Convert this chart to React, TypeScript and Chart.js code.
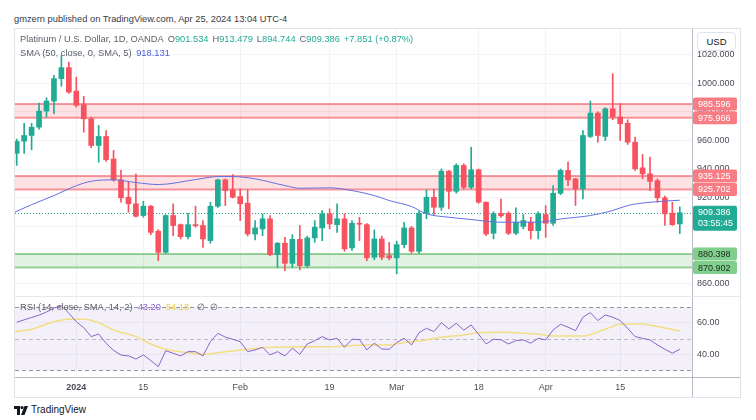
import React, { useEffect, useRef } from "react";
import { Chart, registerables } from "chart.js";
Chart.register(...registerables);

const FONT = "'Liberation Sans', Arial, sans-serif";

// ---- Daily OHLC (Dec 19 2023 .. Apr 25 2024) ----
const opens = [951, 959.5, 963.5, 969.3, 980.6, 987.6, 1003.3, 1011, 994.6, 985,
  975.2, 956.5, 962.8, 947, 932.4, 920.2, 915.6, 907.4, 913.9, 896.4,
  881.6, 907.4, 901, 892.6, 901, 900.4, 889.8, 913.9, 932.4, 925.4,
  920.7, 916, 894.4, 898, 905.1, 880, 888, 873.9, 890.7, 872.3,
  891.7, 898.7, 908.6, 901, 905.1, 884.7, 902, 901, 878.2, 891,
  879.3, 877.7, 887, 898.7, 882.3, 909, 920.2, 913.2, 938.5, 924.4,
  942.5, 927.2, 939.4, 916.7, 895, 909, 909, 895, 899.8, 902.7,
  896.8, 908.1, 902, 923, 939, 933.1, 926.1, 962.8, 979.2, 962.8,
  982.2, 976.4, 972.1, 958.8, 940.8, 936.6, 931.9, 919.8, 909, 901.534];
const highs = [961, 972, 972, 986.2, 990, 1005.6, 1019.6, 1015, 1004.4, 990.9,
  976.4, 970.5, 967, 953, 939, 930.7, 936.6, 917.4, 914.5, 897.5,
  908, 915.6, 901.5, 909, 913.9, 903.9, 916.7, 933, 933, 936.1,
  926, 925.4, 903.9, 908.6, 907.4, 888.5, 892.1, 894, 900.4, 893,
  903.9, 910.9, 912.1, 915.6, 908.6, 903.9, 906.2, 901.8, 897.3, 893,
  888.6, 889.5, 902.7, 899.8, 910.5, 925.4, 926, 940.1, 939, 943.7,
  943.7, 955.3, 940, 917, 910, 919, 910, 912.8, 908.1, 906.2,
  910, 914.4, 928.4, 940, 944.8, 933.5, 967, 987.6, 980, 983,
  1006.8, 985.8, 974.5, 962.3, 950.2, 948.3, 933.1, 921, 916.7, 913.479];
const lows = [942.5, 951, 953.5, 968, 976.4, 978.7, 998, 993, 983.4, 965.8,
  954.9, 944.8, 945.3, 931.4, 916.7, 909.7, 906.2, 906.2, 894, 875.8,
  881, 893.3, 891, 891, 899.2, 885.1, 888, 913, 914.4, 919.6,
  903.9, 893, 890.3, 893.3, 879.3, 871, 868.8, 871, 869.3, 871,
  888.6, 889.8, 898, 895.6, 882.3, 883, 889.8, 875.8, 876.4, 876.4,
  876.3, 866.5, 884.7, 880.9, 880.9, 905.1, 908.1, 911, 912.1, 923,
  926, 926, 916, 893.3, 891, 906, 894, 894, 898, 891,
  891, 892.1, 900.4, 922, 928.4, 914.4, 919, 962, 958.8, 960,
  974.5, 960, 957.2, 939, 933.1, 924.9, 916.7, 900.4, 900.4, 894.744];
const closes = [959.3, 963.5, 969.3, 980.6, 987.6, 1003.3, 1011, 993.9, 984.6, 975.2,
  956.5, 962.8, 946.5, 932.4, 919.8, 915.6, 906.9, 913.9, 895.6, 881.6,
  907.4, 900.4, 892.6, 901, 900.2, 891, 913.9, 932.4, 924.9, 920.2,
  915.6, 894.5, 898.7, 905.1, 880, 888, 873.9, 890.7, 872.3, 891.7,
  899.2, 908.6, 901.5, 905.1, 884, 902, 901.3, 877.7, 891, 878.2,
  877.7, 887, 898.7, 882.3, 909, 920.2, 913.2, 938.5, 924.4, 942.5,
  927.2, 939.4, 916.7, 894.5, 908.6, 907.2, 895, 902.7, 903.9, 896.8,
  908.6, 902, 923, 939, 932.4, 926.1, 963.5, 979.2, 963.5, 982.2,
  976.4, 971.7, 958.8, 940.1, 936.6, 931.4, 919.8, 908.6, 901, 909.386];

// ---- SMA(50) readings (bar index, value) ----
const smaIdx = [-0.3, 2, 5, 8, 10, 13, 16, 19, 24, 27, 29, 32, 36, 38, 42, 45, 48, 50, 53, 55, 58, 61, 65, 70, 73, 77, 80, 82, 85, 89];
const smaVals = [909.7, 915, 921.4, 928.3, 931.4, 932.4, 930.5, 929.1, 932.6, 934.7, 934.7, 933.1, 928.4, 926.5, 926.8, 924.9, 921.4, 917.9, 913.7, 908.6, 906.2, 904.6, 902.7, 902.7, 905, 907.4, 910.9, 914.4, 916.7, 918.131];

// ---- RSI(14) per bar ----
const rsiVals = [60.5, 62, 63.5, 65, 67, 69.5, 71, 66.2, 60.8, 57,
  51.3, 53, 47, 42.5, 39.5, 39, 37, 39.6, 36, 32.1,
  42.3, 40.7, 39, 41.7, 41.7, 39, 48.1, 53.4, 51, 49.6,
  48.1, 41.7, 42.8, 44.5, 39.6, 41.7, 39, 43.9, 40, 46.6,
  48.7, 51.3, 49.2, 50.2, 44.5, 49.6, 49.4, 42.8, 47.1, 43.4,
  43.2, 47.5, 50.2, 46, 53.8, 56.6, 54.5, 60.2, 56.2, 59.8,
  55.5, 58.7, 52.8, 46.6, 49.6, 49.3, 46.6, 48.7, 49.2, 47.1,
  50.2, 49.2, 55.5, 59.2, 57.3, 55.1, 63.7, 66.6, 61.5, 65.1,
  63.7, 61.5, 56.6, 51.3, 50.2, 49.2, 46, 43.2, 40.7, 43.2];
// ---- RSI SMA(14) readings ----
const rsiSmaIdx = [-0.3, 2, 4, 7, 9, 11, 13, 16, 18, 20, 23, 25, 28, 31, 34, 38, 42, 47, 50, 52, 55, 57, 60, 62, 65, 67, 70, 72, 76, 79, 81, 84, 86, 89];
const rsiSmaVals = [54.5, 56, 59.4, 62.4, 62.4, 60.2, 55.5, 51.3, 46.6, 43.2, 41.1, 40, 41.7, 43.2, 44.5, 44.9, 44.9, 46, 46, 47.5, 49.2, 50.9, 52.4, 53.8, 54.1, 53.8, 52.8, 51.7, 51.7, 56, 59.2, 59.4, 57.7, 54.9];

// ---- Axes ----
const timeTickIdx = [8, 17, 30, 42, 51, 62, 71, 81];
const timeTickLabels = ["2024", "15", "Feb", "19", "Mar", "18", "Apr", "15"];
const priceTicks = [860, 880, 900, 920, 940, 960, 980, 1000, 1020];
const rsiTicks = [40, 60];
const rsiLevels = [70, 50, 30];

// ---- Zones ----
const zoneHi = [985.596, 935.125, 880.398];
const zoneLo = [975.966, 925.702, 870.902];
const zoneKind = ["res", "res", "sup"];
const lastClose = 909.386;
const countdown = "03:55:45";

const UP = "#22ab94";
const DOWN = "#f7525f";
const GRID = "#f2f3f7";
const AXIS_TEXT = "#4a4d57";

const X_MIN = -0.228;
const X_MAX = 90.638;

function roundRect(ctx: CanvasRenderingContext2D, x: number, y: number, w: number, h: number, r: number) {
  ctx.beginPath();
  ctx.moveTo(x + r, y);
  ctx.lineTo(x + w - r, y);
  ctx.quadraticCurveTo(x + w, y, x + w, y + r);
  ctx.lineTo(x + w, y + h - r);
  ctx.quadraticCurveTo(x + w, y + h, x + w - r, y + h);
  ctx.lineTo(x + r, y + h);
  ctx.quadraticCurveTo(x, y + h, x, y + h - r);
  ctx.lineTo(x, y + r);
  ctx.quadraticCurveTo(x, y, x + r, y);
  ctx.closePath();
}

const noPad = (s: any) => {
  s.paddingTop = 0;
  s.paddingBottom = 0;
  s.paddingLeft = 0;
  s.paddingRight = 0;
};

const zonePlugin = {
  id: "zones",
  beforeDatasetsDraw(chart: any) {
    const { ctx, chartArea: a, scales } = chart;
    const y = scales.y;
    ctx.save();
    zoneHi.forEach((hi, k) => {
      const lo = zoneLo[k];
      const res = zoneKind[k] === "res";
      const y1 = y.getPixelForValue(hi);
      const y2 = y.getPixelForValue(lo);
      ctx.fillStyle = res ? "rgba(242,54,69,0.15)" : "rgba(76,175,80,0.16)";
      ctx.fillRect(a.left, y1, a.right - a.left, y2 - y1);
      ctx.strokeStyle = res ? "rgba(242,54,69,0.5)" : "rgba(76,175,80,0.55)";
      ctx.lineWidth = 2;
      [y1, y2].forEach((yy) => {
        ctx.beginPath();
        ctx.moveTo(a.left, yy);
        ctx.lineTo(a.right, yy);
        ctx.stroke();
      });
    });
    const yc = Math.round(y.getPixelForValue(lastClose)) + 0.5;
    ctx.strokeStyle = UP;
    ctx.lineWidth = 1;
    ctx.setLineDash([1, 2]);
    ctx.beginPath();
    ctx.moveTo(a.left, yc);
    ctx.lineTo(a.right, yc);
    ctx.stroke();
    ctx.restore();
  },
  afterDraw(chart: any) {
    const { ctx, chartArea: a, scales } = chart;
    const y = scales.y;
    ctx.save();
    ctx.font = `9px ${FONT}`;
    ctx.textBaseline = "middle";
    ctx.textAlign = "left";
    const x0 = a.right + 1;
    const w = 44;
    zoneHi.concat(zoneLo).forEach((v, k) => {
      const kind = zoneKind[k % zoneHi.length];
      const py = y.getPixelForValue(v);
      roundRect(ctx, x0, py - 6.5, w, 13, 2);
      ctx.fillStyle = kind === "res" ? "#f77c84" : "#80cf8c";
      ctx.fill();
      ctx.fillStyle = kind === "res" ? "#ffffff" : "#1c2a1e";
      ctx.fillText(v.toFixed(3), x0 + 5, py + 0.5);
    });
    const pc = y.getPixelForValue(lastClose);
    roundRect(ctx, x0, pc - 7, w, 25, 2);
    ctx.fillStyle = UP;
    ctx.fill();
    ctx.fillStyle = "#ffffff";
    ctx.fillText(lastClose.toFixed(3), x0 + 5, pc);
    ctx.fillText(countdown, x0 + 5, pc + 11);
    ctx.restore();
  },
};

const rsiPlugin = {
  id: "rsiBands",
  beforeDatasetsDraw(chart: any) {
    const { ctx, chartArea: a, scales } = chart;
    const y = scales.y;
    ctx.save();
    const yt = y.getPixelForValue(rsiLevels[0]);
    const yb = y.getPixelForValue(rsiLevels[2]);
    ctx.fillStyle = "rgba(126,87,194,0.09)";
    ctx.fillRect(a.left, yt, a.right - a.left, yb - yt);
    ctx.lineWidth = 1;
    ctx.setLineDash([4, 3]);
    rsiLevels.forEach((lv, k) => {
      const yy = Math.round(y.getPixelForValue(lv)) + 0.5;
      ctx.strokeStyle = k === 1 ? "rgba(120,123,134,0.45)" : "rgba(120,123,134,0.8)";
      ctx.beginPath();
      ctx.moveTo(a.left, yy);
      ctx.lineTo(a.right, yy);
      ctx.stroke();
    });
    ctx.restore();
  },
};

export default function App() {
  const priceRef = useRef<HTMLCanvasElement>(null);
  const rsiRef = useRef<HTMLCanvasElement>(null);

  useEffect(() => {
    Chart.defaults.font.family = FONT;
    const idx = closes.map((_, i) => i);
    const candleColor = (c: any) => (closes[c.dataIndex] >= opens[c.dataIndex] ? UP : DOWN);

    const xScaleBase = {
      type: "linear" as const,
      min: X_MIN,
      max: X_MAX,
      offset: false,
      afterBuildTicks: (s: any) => {
        s.ticks = timeTickIdx.map((v) => ({ value: v }));
      },
      grid: { color: GRID, drawTicks: false, offset: false },
    };

    const price = new Chart(priceRef.current as HTMLCanvasElement, {
      type: "bar",
      data: {
        datasets: [
          {
            type: "line",
            data: smaIdx.map((x, k) => ({ x, y: smaVals[k] })),
            borderColor: "#6270e0",
            borderWidth: 1,
            pointRadius: 0,
            cubicInterpolationMode: "monotone",
            order: 0,
          } as any,
          {
            type: "bar",
            data: idx.map((i) => ({ x: i, y: [lows[i], highs[i]] })),
            backgroundColor: candleColor,
            barThickness: 1,
            grouped: false,
            order: 2,
          } as any,
          {
            type: "bar",
            data: idx.map((i) => ({ x: i, y: [opens[i], closes[i]] })),
            backgroundColor: candleColor,
            barThickness: 5,
            minBarLength: 1,
            grouped: false,
            order: 1,
          } as any,
        ],
      },
      options: {
        responsive: false,
        animation: false,
        layout: { padding: 0 },
        plugins: { legend: { display: false }, tooltip: { enabled: false } },
        scales: {
          x: {
            ...xScaleBase,
            ticks: { display: false },
            border: { display: false },
            afterFit: (s: any) => {
              s.height = 0;
              noPad(s);
            },
          } as any,
          y: {
            type: "linear",
            position: "right",
            min: 851.0,
            max: 1038.12,
            beginAtZero: false,
            afterBuildTicks: (s: any) => {
              s.ticks = priceTicks.map((v) => ({ value: v }));
            },
            afterFit: (s: any) => {
              s.width = 48;
              noPad(s);
            },
            ticks: {
              padding: 5,
              color: AXIS_TEXT,
              font: { size: 9, family: FONT },
              callback: (v: any) => Number(v).toFixed(3),
            },
            grid: { color: GRID, drawTicks: false },
            border: { display: true, color: "#b8bbc4" },
          } as any,
        },
      },
      plugins: [zonePlugin],
    });

    const rsi = new Chart(rsiRef.current as HTMLCanvasElement, {
      type: "line",
      data: {
        datasets: [
          {
            data: idx.map((i) => ({ x: i, y: rsiVals[i] })),
            borderColor: "#8c62c9",
            borderWidth: 1,
            pointRadius: 0,
            tension: 0,
            order: 0,
          },
          {
            data: rsiSmaIdx.map((x, k) => ({ x, y: rsiSmaVals[k] })),
            borderColor: "rgba(243,220,110,0.85)",
            borderWidth: 1.5,
            pointRadius: 0,
            cubicInterpolationMode: "monotone",
            order: 1,
          } as any,
        ],
      },
      options: {
        responsive: false,
        animation: false,
        layout: { padding: 0 },
        plugins: { legend: { display: false }, tooltip: { enabled: false } },
        scales: {
          x: {
            ...xScaleBase,
            afterFit: (s: any) => {
              s.height = 20;
              noPad(s);
            },
            ticks: {
              autoSkip: false,
              maxRotation: 0,
              padding: 5,
              color: AXIS_TEXT,
              font: (c: any) => ({ size: 9, family: FONT, weight: c.tick && c.tick.value === timeTickIdx[0] ? "bold" : "normal" }),
              callback: (v: any) => {
                const k = timeTickIdx.indexOf(Number(v));
                return k >= 0 ? timeTickLabels[k] : "";
              },
            },
            border: { display: true, color: "#b8bbc4" },
          } as any,
          y: {
            type: "linear",
            position: "right",
            min: 25.53,
            max: 76.57,
            afterBuildTicks: (s: any) => {
              s.ticks = rsiTicks.map((v) => ({ value: v }));
            },
            afterFit: (s: any) => {
              s.width = 48;
              noPad(s);
            },
            ticks: {
              padding: 5,
              color: AXIS_TEXT,
              font: { size: 9, family: FONT },
              callback: (v: any) => Number(v).toFixed(2),
            },
            grid: { color: GRID, drawTicks: false },
            border: { display: true, color: "#b8bbc4" },
          } as any,
        },
      },
      plugins: [rsiPlugin],
    });

    return () => {
      price.destroy();
      rsi.destroy();
    };
  }, []);

  const line = (l: number, t: number, w: number, h: number, c: string) => (
    <div style={{ position: "absolute", left: l, top: t, width: w, height: h, background: c }} />
  );

  const txt: React.CSSProperties = { position: "absolute", fontSize: 9.3, lineHeight: "12px", whiteSpace: "nowrap" };
  const gap: React.CSSProperties = { marginLeft: 4 };

  return (
    <div
      style={{
        position: "fixed",
        left: 0,
        top: 0,
        width: 756,
        height: 420,
        background: "#ffffff",
        overflow: "hidden",
        fontFamily: FONT,
        color: "#131722",
      }}
    >
      <div style={{ ...txt, left: 14, top: 13, color: "#363a45" }}>
        gmzern published on TradingView.com, Apr 25, 2024 13:04 UTC-4
      </div>

      <canvas ref={priceRef} width={725} height={267} style={{ position: "absolute", left: 15, top: 29, width: 725, height: 267 }} />
      <canvas ref={rsiRef} width={725} height={100} style={{ position: "absolute", left: 15, top: 297, width: 725, height: 100 }} />

      {line(14, 28, 727, 1, "#e0e3eb")}
      {line(14, 28, 1, 370, "#e0e3eb")}
      {line(740, 28, 1, 370, "#e0e3eb")}
      {line(14, 397, 727, 1, "#e0e3eb")}
      {line(15, 296, 725, 1, "#e6e8ee")}
      {line(692, 377, 48, 1, "#b8bbc4")}
      {line(692, 377, 1, 20, "#b8bbc4")}

      <div style={{ ...txt, left: 20, top: 33, color: "#5d606b" }}>
        <span>Platinum / U.S. Dollar, 1D, OANDA</span>
        <span style={{ marginLeft: 4 }}>O</span><span style={{ color: UP }}>901.534</span>
        <span style={gap}>H</span><span style={{ color: UP }}>913.479</span>
        <span style={gap}>L</span><span style={{ color: UP }}>894.744</span>
        <span style={gap}>C</span><span style={{ color: UP }}>909.386</span>
        <span style={{ ...gap, color: UP }}>+7.851 (+0.87%)</span>
      </div>
      <div style={{ ...txt, left: 20, top: 47, color: "#5d606b" }}>
        SMA (50, close, 0, SMA, 5){" "}
        <span style={{ color: "#4a5de0", marginLeft: 2 }}>918.131</span>
      </div>

      <div
        style={{
          position: "absolute",
          left: 697,
          top: 32,
          width: 39,
          height: 19,
          border: "1px solid #e0e3eb",
          borderRadius: 4,
          background: "#ffffff",
          boxSizing: "border-box",
          fontSize: 9.5,
          lineHeight: "17px",
          textAlign: "center",
          color: "#131722",
        }}
      >
        USD
      </div>

      <div style={{ ...txt, left: 20, top: 301, color: "#5d606b" }}>
        <span>RSI (14, close, SMA, 14, 2)</span>
        <span style={{ color: "#8c62c9", marginLeft: 5 }}>43.20</span>
        <span style={{ color: "#e9cf4a", marginLeft: 5 }}>54.18</span>
        <span style={{ marginLeft: 8 }}>∅</span>
        <span style={{ marginLeft: 5 }}>∅</span>
      </div>

      <div style={{ position: "absolute", left: 14, top: 404, display: "flex", alignItems: "center" }}>
        <svg width="14" height="9" viewBox="0 0 14 9">
          <path d="M0 0h6v9H3V3H0z" fill="#131722" />
          <circle cx="8" cy="1.6" r="1.6" fill="#131722" />
          <path d="M10.5 0H14l-3.5 9H7z" fill="#131722" />
        </svg>
        <span style={{ marginLeft: 3, fontSize: 10, lineHeight: "12px", color: "#131722" }}>TradingView</span>
      </div>
    </div>
  );
}
